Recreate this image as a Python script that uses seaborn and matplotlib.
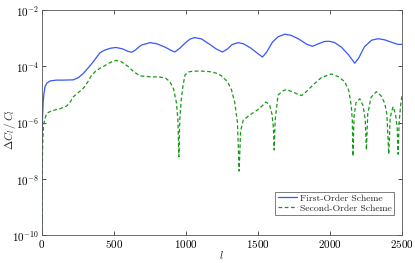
import numpy as np
import pandas as pd
import matplotlib
matplotlib.use("Agg")
import matplotlib.pyplot as plt
import seaborn as sns

# multipole l and log10(dC_l/C_l)
l_first = [2, 5, 10, 15, 23, 35, 58, 100, 150, 220, 255, 289, 320, 358, 385, 404,
           439, 475, 515, 560, 600, 624, 650, 690, 751, 800, 860, 900, 924, 960,
           1000, 1030, 1063, 1110, 1160, 1210, 1255, 1290, 1320, 1363, 1400, 1450,
           1500, 1532, 1560, 1600, 1640, 1687, 1730, 1780, 1840, 1878, 1920, 1960,
           1992, 2030, 2080, 2130, 2172, 2200, 2240, 2290, 2334, 2380, 2430, 2470, 2500]
log_first = [-6.6, -5.9, -5.3, -5.0, -4.72, -4.6, -4.52, -4.49, -4.49, -4.48, -4.4,
             -4.25, -4.07, -3.84, -3.65, -3.52, -3.42, -3.36, -3.33, -3.38, -3.47,
             -3.50, -3.42, -3.25, -3.16, -3.2, -3.33, -3.44, -3.49, -3.35, -3.15,
             -3.03, -2.98, -3.03, -3.2, -3.38, -3.49, -3.38, -3.23, -3.16, -3.2,
             -3.35, -3.55, -3.67, -3.5, -3.15, -2.95, -2.86, -2.9, -3.02, -3.22,
             -3.29, -3.2, -3.12, -3.11, -3.15, -3.32, -3.6, -3.89, -3.7, -3.3,
             -3.07, -3.02, -3.06, -3.15, -3.22, -3.22]

l_second = [2, 5, 8, 12, 20, 35, 60, 92, 130, 173, 200, 220, 250, 289, 320, 347,
            375, 404, 440, 480, 515, 550, 601, 640, 682, 750, 820, 860, 890, 915,
            935, 945, 952, 958, 968, 980, 994, 1020, 1051, 1110, 1167, 1210, 1248,
            1290, 1317, 1340, 1358, 1370, 1380, 1398, 1444, 1513, 1555, 1580, 1598,
            1608, 1613, 1620, 1640, 1670, 1698, 1750, 1802, 1840, 1883, 1940, 2010,
            2060, 2103, 2130, 2148, 2155, 2160, 2167, 2180, 2207, 2230, 2245, 2253,
            2262, 2285, 2322, 2355, 2380, 2395, 2408, 2418, 2438, 2455, 2467, 2473,
            2480, 2490, 2500]
log_second = [-10.5, -7.2, -6.6, -6.15, -5.9, -5.67, -5.6, -5.55, -5.5, -5.41, -5.25,
              -5.08, -4.95, -4.78, -4.55, -4.31, -4.17, -4.07, -3.97, -3.85, -3.79,
              -3.83, -4.01, -4.2, -4.34, -4.37, -4.38, -4.42, -4.55, -4.8, -5.3,
              -5.9, -7.21, -5.9, -5.2, -4.7, -4.31, -4.2, -4.17, -4.17, -4.19,
              -4.24, -4.34, -4.55, -4.84, -5.3, -6.0, -7.72, -6.3, -5.91, -5.73,
              -5.49, -5.27, -5.35, -5.7, -6.2, -6.97, -5.9, -5.02, -4.88, -4.82,
              -4.93, -5.04, -4.88, -4.66, -4.4, -4.27, -4.37, -4.55, -4.85, -5.4,
              -5.9, -7.19, -5.8, -5.3, -5.15, -5.4, -5.9, -6.97, -5.7, -5.1, -4.9,
              -5.05, -5.31, -5.7, -7.12, -5.8, -5.43, -5.7, -6.2, -7.12, -6.0,
              -5.4, -5.02]

x_ticks = [0, 500, 1000, 1500, 2000, 2500]
y_ticks = [1e-10, 1e-8, 1e-6, 1e-4, 1e-2]

df1 = pd.DataFrame({"l": l_first, "err": 10.0 ** np.array(log_first)})
df2 = pd.DataFrame({"l": l_second, "err": 10.0 ** np.array(log_second)})

sns.set_style("ticks")
plt.rcParams["font.family"] = "serif"
plt.rcParams["font.serif"] = ["cmr10", "DejaVu Serif"]
plt.rcParams["mathtext.fontset"] = "cm"
plt.rcParams["axes.formatter.use_mathtext"] = True

fig = plt.figure(figsize=(4.15, 2.63), dpi=100)
ax = fig.add_axes([0.1005, 0.1053, 0.8682, 0.8567])

sns.lineplot(data=df1, x="l", y="err", ax=ax, color="#3358ff", lw=0.9,
             label="First-Order Scheme")
sns.lineplot(data=df2, x="l", y="err", ax=ax, color="#169916", lw=0.9,
             linestyle=(0, (3, 2)), label="Second-Order Scheme")

ax.set_yscale("log")
ax.set_xlim(0, 2500)
ax.set_ylim(1e-10, 1e-2)
ax.set_xticks(x_ticks)
ax.set_yticks(y_ticks)
ax.yaxis.set_minor_locator(matplotlib.ticker.NullLocator())
ax.tick_params(direction="in", top=True, right=True, length=3, width=0.6,
               labelsize=8, colors="#333333", labelcolor="black", pad=2)
for s in ax.spines.values():
    s.set_linewidth(0.6)
    s.set_color("#555555")

ax.set_xlabel("$l$", fontsize=8, labelpad=-1)
ax.set_ylabel(r"$\Delta C_l\,/\,C_l$", fontsize=8)
ax.yaxis.set_label_coords(-0.066, 0.47)

leg = ax.legend(loc="lower right", bbox_to_anchor=(0.978, 0.09), fontsize=7,
                frameon=True, fancybox=False, handlelength=2.0,
                handletextpad=0.3, borderpad=0.25, labelspacing=0.1,
                borderaxespad=0)
leg.get_frame().set_edgecolor("#444444")
leg.get_frame().set_linewidth(0.6)

fig.savefig("out.png", dpi=100)
